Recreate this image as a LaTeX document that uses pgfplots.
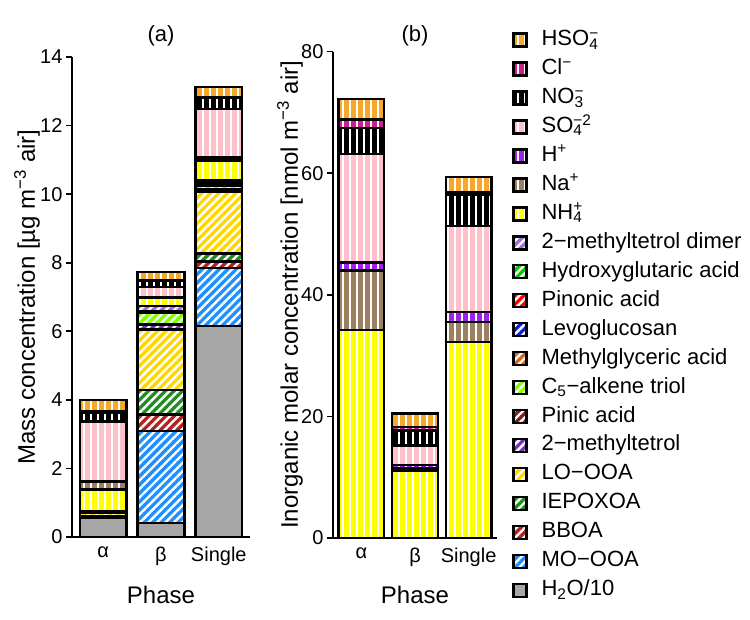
\documentclass[border=0pt]{standalone}
\usepackage{fontspec}
\setmainfont{Liberation Sans}
\usepackage{pgfplots}
\pgfplotsset{compat=1.18}
\usetikzlibrary{patterns.meta}

\definecolor{cHSO}{HTML}{F7A82A}
\definecolor{cCl}{HTML}{D02090}
\definecolor{cNO}{HTML}{000000}
\definecolor{cSO}{HTML}{FFC0CB}
\definecolor{cH}{HTML}{A020F0}
\definecolor{cNa}{HTML}{9C8060}
\definecolor{cNH}{HTML}{FFFF00}
\definecolor{cDimer}{HTML}{A070E0}
\definecolor{cHydroxy}{HTML}{00CD00}
\definecolor{cPinonic}{HTML}{FF0000}
\definecolor{cLevo}{HTML}{1020D0}
\definecolor{cMethylgly}{HTML}{D2691E}
\definecolor{cCfive}{HTML}{7FFF00}
\definecolor{cPinic}{HTML}{8B1A1A}
\definecolor{cTwoMT}{HTML}{7B2FBE}
\definecolor{cLO}{HTML}{FFD700}
\definecolor{cIEPOX}{HTML}{228B22}
\definecolor{cBBOA}{HTML}{B22222}
\definecolor{cMO}{HTML}{1E90FF}
\definecolor{cHtwoO}{HTML}{A6A6A6}

\tikzset{
  diag/.style={draw=black, line width=2.4pt, preaction={fill=#1},
    preaction={pattern={Lines[angle=45,distance=6pt,line width=2.4pt]}, pattern color=white}},
  vert/.style={draw=black, line width=2.4pt, preaction={fill=#1},
    preaction={pattern={Lines[angle=90,distance=7pt,line width=1.6pt]}, pattern color=white}},
  vertblack/.style={draw=black, line width=2.4pt, preaction={fill=black},
    preaction={pattern={Lines[angle=90,distance=7pt,line width=2.4pt]}, pattern color=white}},
  solid bar/.style={draw=black, line width=2.4pt, fill=#1},
}

\pgfplotsset{
  common/.style={
    scale only axis, ybar stacked, enlargelimits=false, clip=false,
    axis x line*=bottom, axis y line*=left,
    axis line style={line width=1.6pt, black},
    xtick={0,1,2}, xticklabels={α,β,Single},
    xtick style={draw=none},
    ytick style={line width=1.6pt, black},
    tick align=outside, major tick length=6pt,
    /pgf/number format/assume math mode=true,
    ticklabel style={font=\fontsize{20}{24}\selectfont},
    label style={font=\fontsize{24}{28}\selectfont},
    title style={font=\fontsize{22}{26}\selectfont},
    legend image code/.code={\draw[##1] (0pt,-6.5pt) rectangle (13pt,6.5pt);},
  },
}

\begin{document}
\begin{tikzpicture}
\useasboundingbox (0,0) rectangle (750pt,620pt);
% ---------------- panel (a)
\begin{axis}[common,
  at={(72pt,83pt)}, anchor=south west,
  width=178pt, height=480pt,
  bar width=0.81,
  xmin=-0.54, xmax=2.54, ymin=0, ymax=14,
  ytick={0,2,...,14},
  ylabel={Mass concentration [µg m\textsuperscript{−3} air]},
  ylabel style={at={(axis description cs:-0.253,0.5)}, anchor=center},
  xlabel={Phase},
  xlabel style={at={(axis description cs:0.5,-0.121)}, anchor=center},
  title={(a)},
  title style={at={(axis description cs:0.5,1.031)}, anchor=center},
  reverse legend,
  legend cell align=left,
  legend style={at={(axis description cs:2.4719,1.0594)}, anchor=north west,
    draw=none, fill=none, inner sep=0pt,
    font=\fontsize{22}{26}\selectfont, row sep=5.95pt, column sep=14pt,
    nodes={inner sep=0pt, text height=17pt, text depth=6pt}},
]
\addplot[solid bar=cHtwoO] coordinates {(0,0.55) (1,0.40) (2,6.16)};
\addlegendentry{H\textsubscript{2}O/10}
\addplot[diag=cMO] coordinates {(0,0.03) (1,2.70) (2,1.68)};
\addlegendentry{MO−OOA}
\addplot[diag=cBBOA] coordinates {(0,0.02) (1,0.47) (2,0.20)};
\addlegendentry{BBOA}
\addplot[diag=cIEPOX] coordinates {(0,0.02) (1,0.71) (2,0.23)};
\addlegendentry{IEPOXOA}
\addplot[diag=cLO] coordinates {(0,0.10) (1,1.77) (2,1.80)};
\addlegendentry{LO−OOA}
\addplot[diag=cTwoMT] coordinates {(0,0.005) (1,0.15) (2,0.03)};
\addlegendentry{2−methyltetrol}
\addplot[diag=cPinic] coordinates {(0,0.005) (1,0.02) (2,0.03)};
\addlegendentry{Pinic acid}
\addplot[diag=cCfive] coordinates {(0,0.005) (1,0.33) (2,0.10)};
\addlegendentry{C\textsubscript{5}−alkene triol}
\addplot[diag=cMethylgly] coordinates {(0,0.005) (1,0.01) (2,0.03)};
\addlegendentry{Methylglyceric acid}
\addplot[diag=cLevo] coordinates {(0,0.005) (1,0.01) (2,0.03)};
\addlegendentry{Levoglucosan}
\addplot[diag=cPinonic] coordinates {(0,0.005) (1,0.01) (2,0.03)};
\addlegendentry{Pinonic acid}
\addplot[diag=cHydroxy] coordinates {(0,0.005) (1,0.01) (2,0.04)};
\addlegendentry{Hydroxyglutaric acid}
\addplot[diag=cDimer] coordinates {(0,0.005) (1,0.14) (2,0.04)};
\addlegendentry{2−methyltetrol dimer}
\addplot[vert=cNH] coordinates {(0,0.62) (1,0.24) (2,0.58)};
\addlegendentry{NH\rlap{\textsubscript{4}}\textsuperscript{+}}
\addplot[vert=cNa] coordinates {(0,0.23) (1,0.01) (2,0.07)};
\addlegendentry{Na\textsuperscript{+}}
\addplot[vert=cH] coordinates {(0,0.005) (1,0.005) (2,0.02)};
\addlegendentry{H\textsuperscript{+}}
\addplot[vert=cSO] coordinates {(0,1.75) (1,0.31) (2,1.42)};
\addlegendentry{SO\rlap{\textsubscript{4}}\textsuperscript{−2}}
\addplot[vertblack] coordinates {(0,0.26) (1,0.18) (2,0.33)};
\addlegendentry{NO\rlap{\textsubscript{3}}\textsuperscript{−}}
\addplot[vert=cCl] coordinates {(0,0.05) (1,0.02) (2,0.01)};
\addlegendentry{Cl\textsuperscript{−}}
\addplot[vert=cHSO] coordinates {(0,0.32) (1,0.23) (2,0.29)};
\addlegendentry{HSO\rlap{\textsubscript{4}}\textsuperscript{−}}
\end{axis}
% ---------------- panel (b)
\begin{axis}[common,
  at={(333pt,82pt)}, anchor=south west,
  width=164pt, height=486.4pt,
  bar width=0.85,
  xmin=-0.53, xmax=2.53, ymin=0, ymax=80,
  ytick={0,20,...,80},
  ylabel={Inorganic molar concentration [nmol m\textsuperscript{−3} air]},
  ylabel style={at={(axis description cs:-0.262,0.5)}, anchor=center},
  xlabel={Phase},
  xlabel style={at={(axis description cs:0.5,-0.117)}, anchor=center},
  title={(b)},
  title style={at={(axis description cs:0.5,1.02)}, anchor=center},
]
\addplot[vert=cNH] coordinates {(0,34.2) (1,11.0) (2,32.2)};
\addplot[vert=cNa] coordinates {(0,9.8) (1,0.4) (2,3.3)};
\addplot[vert=cH] coordinates {(0,1.3) (1,0.6) (2,1.7)};
\addplot[vert=cSO] coordinates {(0,17.9) (1,3.2) (2,14.1)};
\addplot[vertblack] coordinates {(0,4.2) (1,2.5) (2,5.2)};
\addplot[vert=cCl] coordinates {(0,1.4) (1,0.6) (2,0.3)};
\addplot[vert=cHSO] coordinates {(0,3.4) (1,2.2) (2,2.6)};
\end{axis}
\end{tikzpicture}
\end{document}
